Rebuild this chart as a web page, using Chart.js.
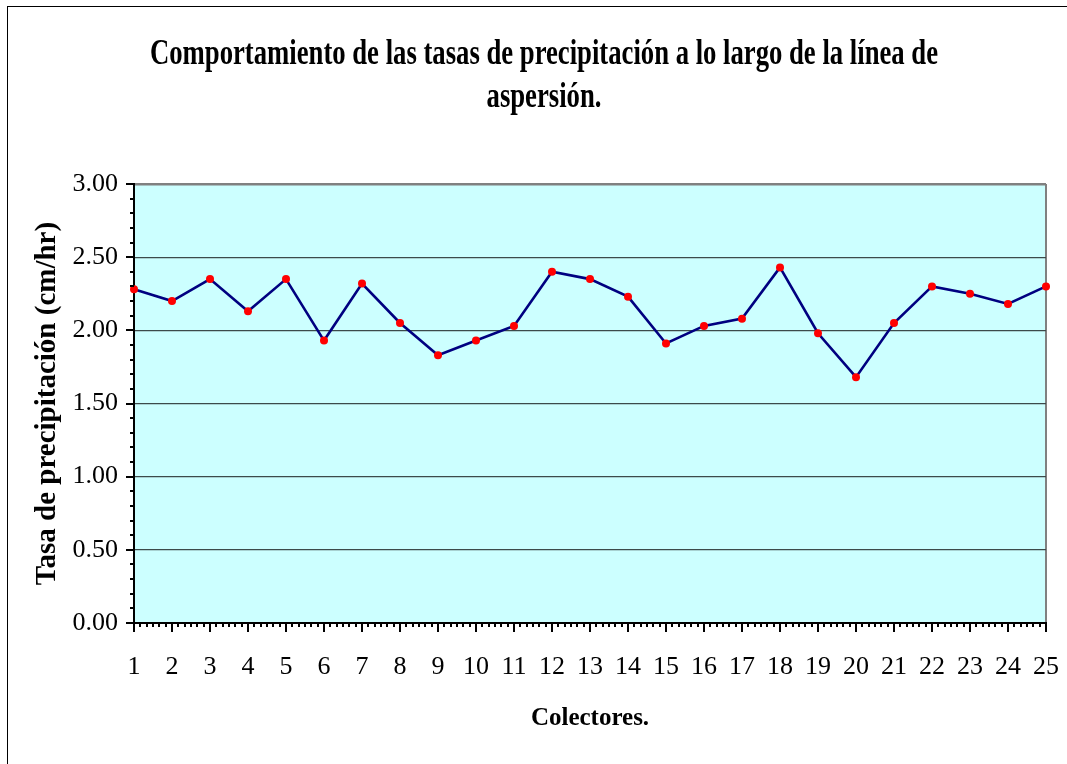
<!DOCTYPE html>
<html><head><meta charset="utf-8">
<script src="https://cdn.jsdelivr.net/npm/chart.js@4.4.1/dist/chart.umd.min.js"></script>
<style>html,body{margin:0;padding:0;background:#fff}#wrap{width:1067px;height:764px;position:relative}</style>
</head><body><div id="wrap"><canvas id="c" width="1067" height="764"></canvas></div>
<script>
const categories = ['1','2','3','4','5','6','7','8','9','10','11','12','13','14','15','16','17','18','19','20','21','22','23','24','25'];
const rates = [2.28,2.20,2.35,2.13,2.35,1.93,2.32,2.05,1.83,1.93,2.03,2.40,2.35,2.23,1.91,2.03,2.08,2.43,1.98,1.68,2.05,2.30,2.25,2.18,2.30];
const yMin = 0, yMax = 3, yStep = 0.5, yMinorStep = 0.1;
const xMinorPerCategory = 6;
const titleLines = ['Comportamiento de las tasas de precipitación a lo largo de la línea de', 'aspersión.'];
const xTitle = 'Colectores.';
const yTitle = 'Tasa de precipitación (cm/hr)';

const SERIF = '"Liberation Serif", "Times New Roman", serif';
const TITLE_SIZE = 35, TITLE_TARGET_W = 788, TITLE_CENTER_X = 544;

const framePlugin = {
  id: 'frame',
  beforeDraw(chart) {
    const ctx = chart.ctx, ca = chart.chartArea;
    ctx.save();
    ctx.fillStyle = '#ffffff';
    ctx.fillRect(0, 0, chart.width, chart.height);
    ctx.strokeStyle = '#000000';
    ctx.lineWidth = 1;
    ctx.strokeRect(7.5, 6.5, chart.width + 10, chart.height + 10);
    ctx.fillStyle = '#CCFFFF';
    ctx.fillRect(ca.left, ca.top, ca.right - ca.left, ca.bottom - ca.top);
    ctx.restore();
  }
};

const tickPlugin = {
  id: 'axisTicks',
  afterDraw(chart) {
    const ctx = chart.ctx, ca = chart.chartArea;
    const xs = chart.scales.x, ys = chart.scales.y;
    ctx.save();
    ctx.strokeStyle = '#000000';
    ctx.lineWidth = 2;
    const nY = Math.round((yMax - yMin) / yMinorStep);
    const perMajor = Math.round(yStep / yMinorStep);
    for (let i = 0; i <= nY; i++) {
      const y = Math.round(ys.getPixelForValue(yMin + i * yMinorStep));
      const len = (i % perMajor === 0) ? 8 : 4;
      ctx.beginPath();
      ctx.moveTo(ca.left - len, y);
      ctx.lineTo(ca.left, y);
      ctx.stroke();
    }
    const nX = (categories.length - 1) * xMinorPerCategory;
    for (let i = 0; i <= nX; i++) {
      const x = Math.round(xs.getPixelForValue(i / xMinorPerCategory));
      const len = (i % xMinorPerCategory === 0) ? 9 : 4;
      ctx.beginPath();
      ctx.moveTo(x, ca.bottom);
      ctx.lineTo(x, ca.bottom + len);
      ctx.stroke();
    }
    ctx.restore();
  }
};

const titlePatch = {
  id: 'titlePatch',
  afterInit(chart) {
    const tb = chart.titleBlock;
    if (!tb) return;
    const orig = tb.draw.bind(tb);
    tb.draw = function (area) {
      const ctx = chart.ctx;
      ctx.save();
      ctx.font = 'bold ' + TITLE_SIZE + 'px ' + SERIF;
      const w0 = ctx.measureText(titleLines[0]).width;
      ctx.restore();
      const sx = Math.min(1, TITLE_TARGET_W / w0);
      const cx = (tb.left + tb.right) / 2;
      ctx.save();
      ctx.translate(TITLE_CENTER_X - sx * cx, 0);
      ctx.scale(sx, 1);
      orig(area);
      ctx.restore();
    };
  }
};

function zeroPad(scale) {
  scale.paddingLeft = 0; scale.paddingRight = 0; scale.paddingTop = 0; scale.paddingBottom = 0;
}

new Chart(document.getElementById('c'), {
  type: 'line',
  data: {
    labels: categories,
    datasets: [{
      label: 'Tasa de precipitación',
      data: rates,
      borderColor: '#000080',
      borderWidth: 2.6,
      tension: 0,
      pointRadius: 4,
      pointBackgroundColor: '#FF0000',
      pointBorderColor: '#FF0000',
      pointBorderWidth: 0,
      clip: false
    }]
  },
  options: {
    responsive: false,
    devicePixelRatio: 1,
    animation: false,
    layout: { padding: { left: 8, right: 21, top: 0, bottom: 0 } },
    plugins: {
      legend: { display: false },
      tooltip: { enabled: false },
      title: {
        display: true,
        text: titleLines,
        color: '#000000',
        font: { family: SERIF, size: TITLE_SIZE, weight: 'bold', lineHeight: 43 / TITLE_SIZE },
        padding: { top: 33, bottom: 65 }
      }
    },
    scales: {
      x: {
        type: 'category',
        offset: false,
        grid: {
          offset: false,
          drawTicks: false,
          color: (c) => (c.index === categories.length - 1 ? '#808080' : 'rgba(0,0,0,0)'),
          lineWidth: 2
        },
        border: { display: true, color: '#000000', width: 2 },
        ticks: { color: '#000000', font: { family: SERIF, size: 26 }, padding: 29, maxRotation: 0, autoSkip: false },
        title: { display: true, text: xTitle, color: '#000000', font: { family: SERIF, size: 25, weight: 'bold' }, padding: { top: 0, bottom: 30 } },
        afterFit(scale) { scale.height = 141; zeroPad(scale); }
      },
      y: {
        min: yMin,
        max: yMax,
        grid: {
          drawTicks: false,
          color: (c) => (c.tick && Math.abs(c.tick.value - yMax) < 1e-9 ? '#808080' : '#3c4a4a'),
          lineWidth: (c) => (c.tick && Math.abs(c.tick.value - yMax) < 1e-9 ? 2.5 : 1.3)
        },
        border: { display: true, color: '#000000', width: 2 },
        ticks: { stepSize: yStep, color: '#000000', font: { family: SERIF, size: 26 }, padding: 16, callback: (v) => Number(v).toFixed(2) },
        title: { display: true, text: yTitle, color: '#000000', font: { family: SERIF, size: 29, weight: 'bold' }, padding: { top: 22, bottom: 0 } },
        afterFit(scale) { scale.width = 126; zeroPad(scale); }
      }
    }
  },
  plugins: [framePlugin, tickPlugin, titlePatch]
});
</script>
</body></html>
